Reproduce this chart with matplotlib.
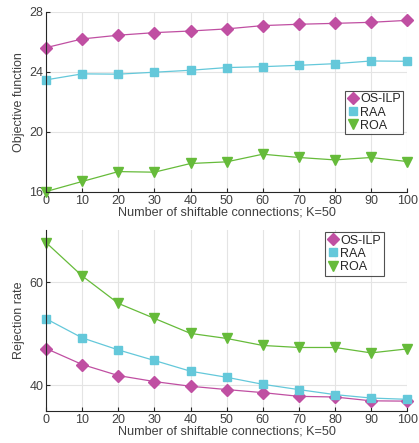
import matplotlib
matplotlib.use("Agg")
import matplotlib.pyplot as plt

plt.rcParams['font.family'] = ['Liberation Sans', 'DejaVu Sans']

x = [0, 10, 20, 30, 40, 50, 60, 70, 80, 90, 100]
labels = ['OS-ILP', 'RAA', 'ROA']

# objective function
obj_osilp = [25.62, 26.2, 26.45, 26.62, 26.73, 26.87, 27.09, 27.18, 27.24, 27.31, 27.44]
obj_raa = [23.47, 23.87, 23.85, 23.98, 24.11, 24.29, 24.35, 24.44, 24.55, 24.73, 24.71]
obj_roa = [16.02, 16.69, 17.35, 17.31, 17.89, 18.0, 18.51, 18.29, 18.13, 18.29, 18.02]

# rejection rate
rej_osilp = [47.12, 44.02, 41.88, 40.72, 39.81, 39.17, 38.58, 37.86, 37.73, 36.99, 36.93]
rej_raa = [52.88, 49.18, 46.85, 44.8, 42.72, 41.55, 40.19, 39.16, 38.19, 37.53, 37.28]
rej_roa = [67.63, 61.17, 55.86, 52.95, 50.04, 49.07, 47.71, 47.32, 47.32, 46.27, 47.05]

colors = ['#c04fa2', '#64c8da', '#66bb3a']
markers = ['D', 's', 'v']
msizes = [6.5, 6, 7]
txt = '#404040'


def style_ax(ax, yticks, ylim, ylabel):
    ax.set_xlim(0, 100)
    ax.set_ylim(*ylim)
    ax.set_xticks(x)
    ax.set_yticks(yticks)
    ax.grid(True, color='#e4e4e4', linewidth=0.8)
    ax.set_axisbelow(True)
    for s in ['top', 'right']:
        ax.spines[s].set_visible(False)
    for s in ['left', 'bottom']:
        ax.spines[s].set_color('#262626')
        ax.spines[s].set_linewidth(0.8)
    ax.tick_params(direction='in', length=3, colors='#262626', labelcolor=txt,
                   labelsize=9, pad=2)
    ax.set_xlabel('Number of shiftable connections; K=50', color=txt, fontsize=9.1, labelpad=0)
    ax.set_ylabel(ylabel, color=txt, fontsize=9, labelpad=3)


fig = plt.figure(figsize=(4.19, 4.43), dpi=100)
ax1 = fig.add_axes([0.110, 0.567, 0.862, 0.406])
ax2 = fig.add_axes([0.110, 0.072, 0.862, 0.408])

for ax, series in [(ax1, [obj_osilp, obj_raa, obj_roa]), (ax2, [rej_osilp, rej_raa, rej_roa])]:
    for y, c, m, ms, lab in zip(series, colors, markers, msizes, labels):
        ax.plot(x, y, color=c, linewidth=0.9, marker=m, markersize=ms,
                markerfacecolor=c, markeredgecolor=c, label=lab, clip_on=False)

style_ax(ax1, [16, 20, 24, 28], (16, 28), 'Objective function')
style_ax(ax2, [40, 60], (35, 70), 'Rejection rate')

for ax, loc in [(ax1, (0.828, 0.32)), (ax2, (0.773, 0.75))]:
    leg = ax.legend(loc='lower left', bbox_to_anchor=loc, frameon=True, fancybox=False,
                    edgecolor='#262626', handlelength=0.9, handletextpad=0.1,
                    borderpad=0.2, labelspacing=0.1, borderaxespad=0,
                    fontsize=9)
    leg.get_frame().set_linewidth(0.8)
    for t in leg.get_texts():
        t.set_color('#262626')
    for h in leg.legend_handles:
        h.set_linestyle('None')

fig.savefig('out.png', dpi=100)
